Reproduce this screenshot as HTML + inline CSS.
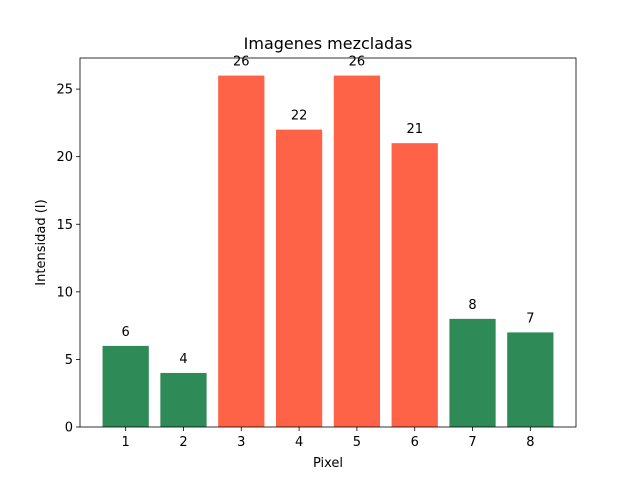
<!DOCTYPE html>
<html><head><meta charset="utf-8"><style>
body{margin:0;background:#fff;}
svg text{font-family:"DejaVu Sans","Liberation Sans",sans-serif;}
</style></head><body>
<svg id="chart" width="640" height="480" xmlns="http://www.w3.org/2000/svg">
<rect width="640" height="480" fill="#fff"/>
<g id="plot"></g>
</svg>
<script>
const categories=[1,2,3,4,5,6,7,8];
const values=[6,4,26,22,26,21,8,7];
const colors=['#2e8b57','#2e8b57','#ff6347','#ff6347','#ff6347','#ff6347','#2e8b57','#2e8b57'];
const yTicks=[0,5,10,15,20,25];
const L=80,R=576,T=58,B=427;
const xMin=0.21,xMax=8.79,yMin=0,yMax=27.3;
const xs=v=>L+(v-xMin)/(xMax-xMin)*(R-L);
const ys=v=>B-(v-yMin)/(yMax-yMin)*(B-T);
const NS='http://www.w3.org/2000/svg';
const g=document.getElementById('plot');
function mk(tag,attrs,text){const e=document.createElementNS(NS,tag);for(const k in attrs)e.setAttribute(k,attrs[k]);if(text!==undefined)e.textContent=text;g.appendChild(e);return e;}
categories.forEach((c,i)=>{
  const x0=xs(c-0.4),x1=xs(c+0.4);
  const r=mk('rect',{x:x0,y:ys(values[i]),width:x1-x0,height:ys(0)-ys(values[i]),fill:colors[i]});
  
  
  const t=mk('text',{x:xs(c),y:ys(values[i])-10,'text-anchor':'middle','font-size':13},values[i]);
  
  
  mk('line',{x1:xs(c),x2:xs(c),y1:B,y2:B+4,stroke:'#000','stroke-width':0.8});
  const xl=mk('text',{x:xs(c),y:B+19,'text-anchor':'middle','font-size':13},c);
  
  
});
yTicks.forEach(v=>{
  mk('line',{x1:L-4,x2:L,y1:ys(v),y2:ys(v),stroke:'#000','stroke-width':0.8});
  const yl=mk('text',{x:L-7,y:ys(v)+4.5,'text-anchor':'end','font-size':13},v);
  
  
});
const fr=mk('rect',{x:L,y:T,width:R-L,height:B-T,fill:'none',stroke:'#000','stroke-width':0.8});


const ti=mk('text',{x:(L+R)/2,y:T-9,'text-anchor':'middle','font-size':16},'Imagenes mezcladas');


const xt=mk('text',{x:(L+R)/2,y:467,'text-anchor':'middle','font-size':13},'Pixel');


const yt=mk('text',{x:0,y:0,'text-anchor':'middle','font-size':13,transform:'translate(45,'+((T+B)/2)+') rotate(-90)'},'Intensidad (I)');


</script>
</body></html>
